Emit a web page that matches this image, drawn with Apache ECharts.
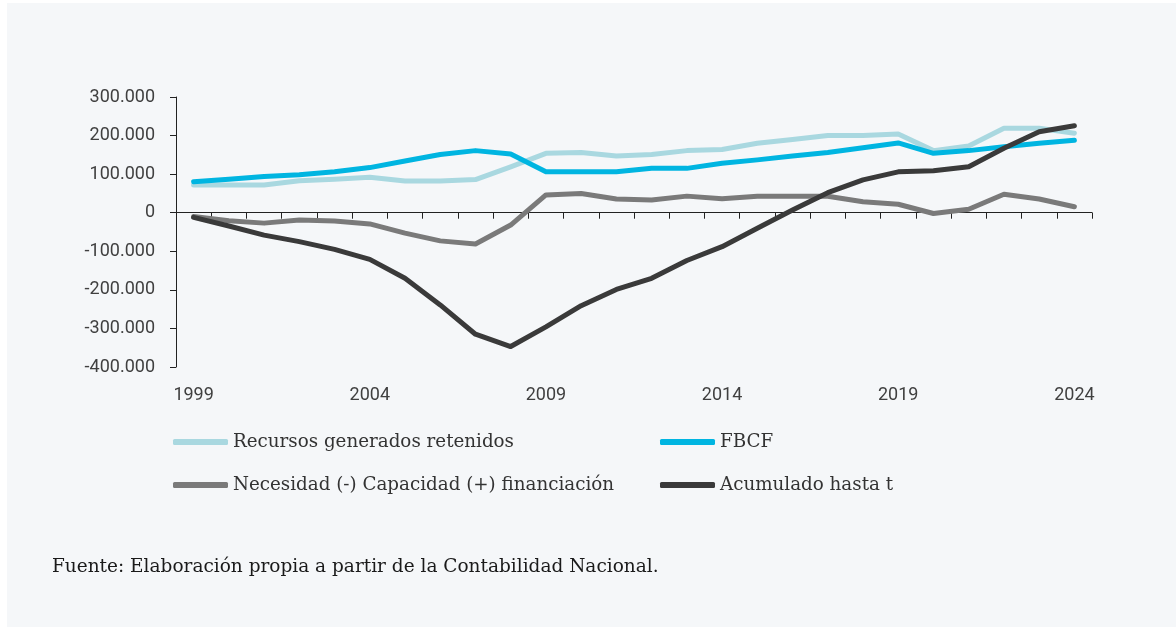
<!DOCTYPE html>
<html>
<head>
<meta charset="utf-8">
<script src="https://cdn.jsdelivr.net/npm/echarts@6/dist/echarts.min.js"></script>
<style>
html,body{margin:0;padding:0;background:#ffffff;}
#chart{position:absolute;left:7px;top:3px;width:1169px;height:624px;background:#f5f7f9;}
</style>
</head>
<body>
<div id="chart"></div>
<script>
const years = ['1999','2000','2001','2002','2003','2004','2005','2006','2007','2008','2009','2010','2011','2012','2013','2014','2015','2016','2017','2018','2019','2020','2021','2022','2023','2024'];
const recursos = [72000,72000,72000,83000,86500,92000,82000,82000,86000,119000,154000,156000,147000,151000,161000,164000,180000,190000,200000,200000,204000,161000,173000,219000,219000,206000];
const fbcf = [80000,87000,94000,98500,106000,117000,134000,151000,161000,152000,106000,106000,106000,115000,115000,128000,137000,147000,156000,168500,181000,154000,161000,171000,180000,188000];
const necesidad = [-10000,-21000,-27000,-19000,-21500,-29000,-53000,-73000,-81000,-32000,46000,50000,35500,33000,43000,36000,42500,42500,42500,28500,22000,-2000,9000,48000,35500,15500];
const acumulado = [-12000,-34500,-58000,-75000,-95000,-121000,-170000,-239000,-315000,-347000,-296000,-241000,-199000,-170000,-124000,-88000,-40500,7000,52000,85000,106000,109000,119000,167000,210000,225500];
const seriesNames = ['Recursos generados retenidos','FBCF','Necesidad (-) Capacidad (+) financiación','Acumulado hasta t'];
const yTicks = {min:-400000, max:300000, interval:100000};
const footer = 'Fuente: Elaboración propia a partir de la Contabilidad Nacional.';

const colors = ['#a9d8e0','#00b5e1','#7a7a7a','#3a3a3a'];
const fmt = v => String(v).replace(/\B(?=(\d{3})+(?!\d))/g,'.');

const chart = echarts.init(document.getElementById('chart'));
const legendPos = [[166,430],[653,430],[166,473],[653,473]];
const dataArr = [recursos,fbcf,necesidad,acumulado];

chart.setOption({
  animation:false,
  backgroundColor:'#f5f7f9',
  grid:{left:169,right:84,top:94,bottom:260,containLabel:false},
  legend: seriesNames.map((n,i)=>({
    data:[n], left:legendPos[i][0], top:legendPos[i][1], icon:'roundRect',
    itemWidth:55, itemHeight:6, padding:0,
    textStyle:{fontFamily:'DejaVu Serif',fontSize:18.3,color:'#333333'}
  })),
  xAxis:[
    {type:'category',data:years,position:'top',boundaryGap:true,
     axisLine:{onZero:true,lineStyle:{color:'#222',width:1}},
     axisTick:{show:true,inside:true,length:6,interval:0,lineStyle:{color:'#222'}},
     axisLabel:{show:false},splitLine:{show:false}},
    {type:'category',data:years,position:'bottom',boundaryGap:true,
     axisLine:{show:false,onZero:false},axisTick:{show:false},
     axisLabel:{show:true,interval:4,margin:19,fontFamily:'Roboto',fontSize:18,color:'#404040'},
     splitLine:{show:false}}
  ],
  yAxis:{type:'value',min:yTicks.min,max:yTicks.max,interval:yTicks.interval,
    axisLine:{show:true,lineStyle:{color:'#222',width:1}},
    axisTick:{show:true,length:6,lineStyle:{color:'#222'}},
    splitLine:{show:false},
    axisLabel:{formatter:fmt,margin:21,fontFamily:'Roboto',fontSize:18,color:'#404040'}},
  series: seriesNames.map((n,i)=>({
    name:n,type:'line',data:dataArr[i],xAxisIndex:0,symbol:'none',showSymbol:false,
    lineStyle:{color:colors[i],width:5,cap:'round',join:'round'},
    itemStyle:{color:colors[i]}
  })),
  graphic:[{type:'text',left:45,top:555,style:{text:footer,fontFamily:'DejaVu Serif',fontSize:18.5,fill:'#1a1a1a'}}]
});
</script>
</body>
</html>
